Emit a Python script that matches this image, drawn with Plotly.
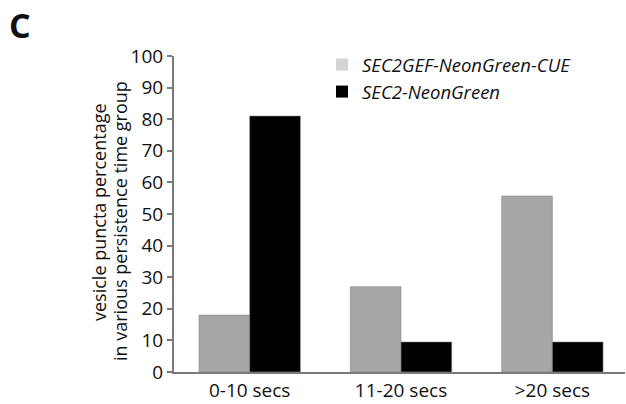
import plotly.graph_objects as go

categories = ["0-10 secs", "11-20 secs", ">20 secs"]
sec2gef_cue = [18, 27, 55.7]
sec2_neongreen = [81, 9.5, 9.5]
series_names = ["SEC2GEF-NeonGreen-CUE", "SEC2-NeonGreen"]
bar_colors = ["#a6a6a6", "#000000"]
legend_colors = ["#d4d4d4", "#000000"]
y_ticks = list(range(0, 101, 10))
y_title_lines = ["vesicle puncta percentage", "in various persistence time group"]

FONT = "Open Sans"
L, R, T, B = 174, 1, 56, 32
W, H = 626, 404
PW, PH = W - L - R, H - T - B


def px_x(px):
    return (px - L) / PW


def px_y(py):
    return (H - B - py) / PH


fig = go.Figure()
for i, (name, vals, col) in enumerate(zip(series_names, [sec2gef_cue, sec2_neongreen], bar_colors)):
    fig.add_trace(go.Bar(x=categories, y=vals, name=name, showlegend=False,
                         offsetgroup=str(i),
                         marker=dict(color=col, line=dict(color="#8a8a8a", width=0.6))))
for i, (name, col) in enumerate(zip(series_names, legend_colors)):
    fig.add_trace(go.Bar(x=[categories[0]], y=[None], name=name, showlegend=True,
                         offsetgroup=str(i), legendgroup=str(i),
                         marker=dict(color=col, line=dict(width=0))))

fig.update_layout(
    width=W, height=H,
    margin=dict(l=L, r=R, t=T, b=B, autoexpand=False),
    paper_bgcolor="white", plot_bgcolor="white",
    barmode="group", bargap=0.33, bargroupgap=0,
    font=dict(family=FONT, size=19, color="#111111"),
    showlegend=True,
    legend=dict(x=px_x(322), y=px_y(46), xanchor="left", yanchor="top",
                font=dict(family=FONT, size=18.5, color="#111111", style="italic"),
                bgcolor="rgba(0,0,0,0)", tracegroupgap=0),
    xaxis=dict(range=[-0.5, 2.48], showline=True, linecolor="#7a7a7a", linewidth=2,
               ticks="", showgrid=False, tickfont=dict(size=19), zeroline=False,
               automargin=False),
    yaxis=dict(range=[0, 100], tickvals=y_ticks, showline=True, linecolor="#7a7a7a",
               linewidth=2, ticks="outside", ticklen=5, tickcolor="#7a7a7a", tickwidth=1.5,
               showgrid=False, zeroline=False, tickfont=dict(size=19), automargin=False),
)
fig.add_annotation(text="<b>C</b>", x=px_x(7), y=px_y(25.5), xref="paper", yref="paper",
                   xanchor="left", yanchor="middle", showarrow=False,
                   font=dict(family=FONT, size=34, color="#111111"))
for txt, cx, cy in zip(y_title_lines, [99, 120], [212, 221]):
    fig.add_annotation(text=txt, x=px_x(cx), y=px_y(cy), xref="paper", yref="paper",
                       xanchor="center", yanchor="middle", textangle=-90, showarrow=False,
                       font=dict(family=FONT, size=18, color="#111111"))
fig.write_html("out.html", config={"displayModeBar": False},
               post_script="document.body.style.margin='0';document.body.style.overflow='hidden';")
